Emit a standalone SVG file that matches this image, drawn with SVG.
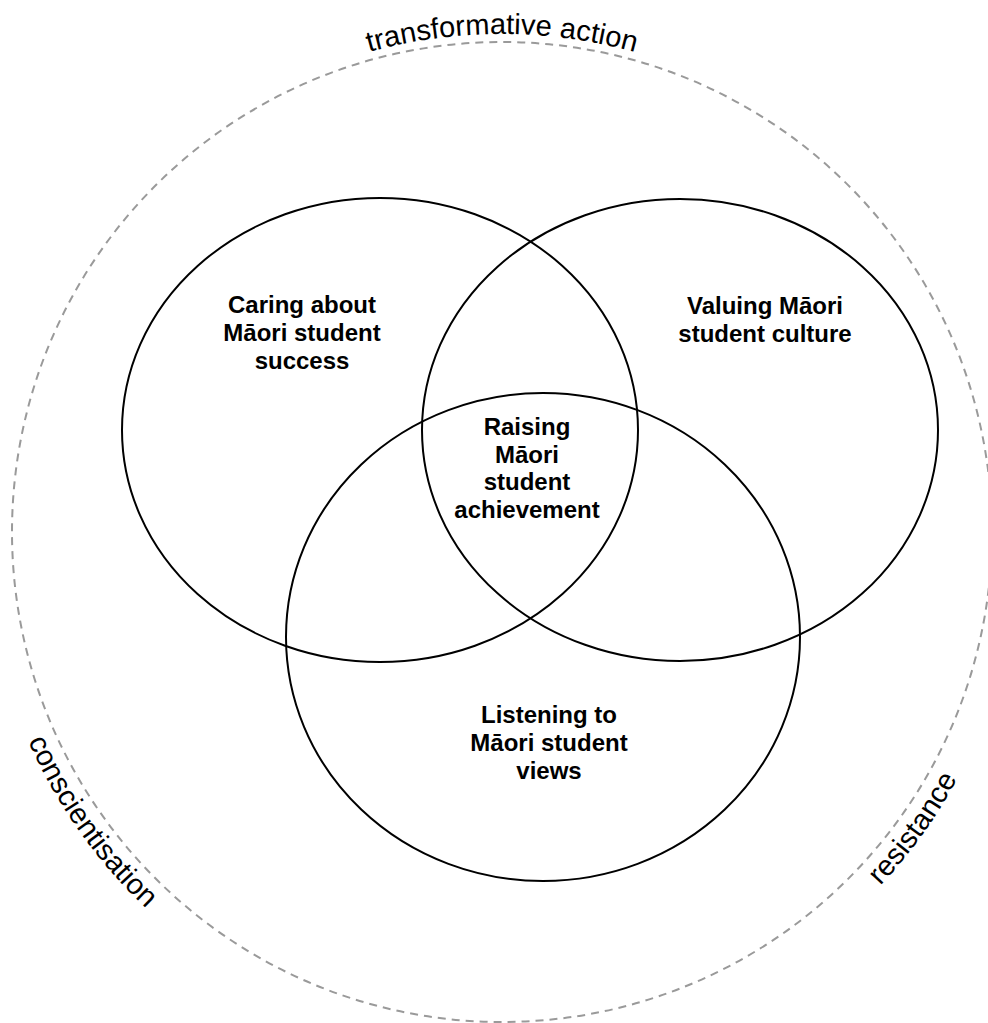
<svg xmlns="http://www.w3.org/2000/svg" width="988" height="1023" viewBox="0 0 988 1023">
  <style>
    .set { fill: none; stroke: #000; stroke-width: 2; }
    .frame { fill: none; stroke: #9a9a9a; stroke-width: 2; stroke-dasharray: 8 6; }
    .lbl { font-family: "Liberation Sans", Arial, sans-serif; font-weight: bold; font-size: 24px; text-anchor: middle; fill: #000; }
    .ring { font-family: "Liberation Sans", Arial, sans-serif; font-size: 29px; fill: #000; }
  </style>
  <defs>
    <!-- baseline for the label over the top of the outer ring (clockwise) -->
    <path id="topArc" d="M4,532 A498,498 0 0 1 1000,532"/>
    <!-- baseline for the labels below the outer ring (left to right along the bottom) -->
    <path id="bottomArc" d="M-16,532 A518,518 0 0 0 1020,532"/>
  </defs>

  <rect width="988" height="1023" fill="#fff"/>

  <!-- outer dashed ring -->
  <g id="ring">
    <circle class="frame" cx="502" cy="532" r="490"/>
    <text class="ring"><textPath href="#topArc" startOffset="50%" text-anchor="middle">transformative action</textPath></text>
    <text class="ring"><textPath href="#bottomArc" startOffset="215">conscientisation</textPath></text>
    <text class="ring"><textPath href="#bottomArc" startOffset="1370" text-anchor="end">resistance</textPath></text>
  </g>

  <g id="caring">
    <ellipse class="set" cx="380" cy="430" rx="258" ry="232"/>
    <text class="lbl" x="302" y="313">Caring about</text>
    <text class="lbl" x="302" y="341">Māori student</text>
    <text class="lbl" x="302" y="369">success</text>
  </g>

  <g id="valuing">
    <ellipse class="set" cx="680" cy="430" rx="258" ry="231"/>
    <text class="lbl" x="765" y="314">Valuing Māori</text>
    <text class="lbl" x="765" y="342">student culture</text>
  </g>

  <g id="listening">
    <ellipse class="set" cx="543" cy="637" rx="257" ry="244"/>
    <text class="lbl" x="549" y="723">Listening to</text>
    <text class="lbl" x="549" y="751">Māori student</text>
    <text class="lbl" x="549" y="779">views</text>
  </g>

  <g id="raising">
    <text class="lbl" x="527" y="435">Raising</text>
    <text class="lbl" x="527" y="463">Māori</text>
    <text class="lbl" x="527" y="490">student</text>
    <text class="lbl" x="527" y="518">achievement</text>
  </g>
</svg>
